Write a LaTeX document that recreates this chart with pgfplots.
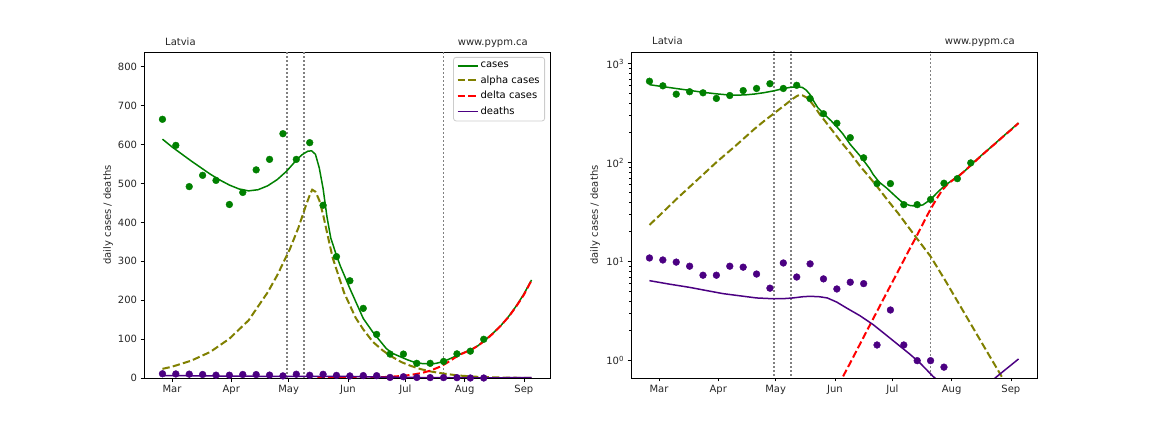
\documentclass[border=0pt]{standalone}
\usepackage{pgfplots}
\pgfplotsset{compat=1.18}
\usepackage{pgfplotstable}
\usepackage{fontspec}
\setmainfont{DejaVu Sans}
\definecolor{mgreen}{RGB}{0,128,0}
\definecolor{molive}{RGB}{128,128,0}
\definecolor{mred}{RGB}{255,0,0}
\definecolor{mindigo}{RGB}{75,0,130}
\definecolor{mgray}{RGB}{128,128,128}
\definecolor{mlegend}{RGB}{204,204,204}

% weekly data points (day 0 = 1 March)
\pgfplotstableread{
day cases deaths
-5 665 10.9
2 598 10.4
9 492 9.9
16 521 9.0
23 508 7.3
30 446 7.3
37 477 9.0
44 535 8.8
51 562 7.5
58 628 5.4
65 562 9.7
72 605 7.0
79 444 9.5
86 312 6.7
93 250 5.3
100 179 6.2
107 112 6.0
114 61.5 1.44
121 61.5 3.25
128 37.7 1.44
135 37.7 1.0
142 42.5 1.0
149 62 0.86
156 69 0
163 99.5 0
}\pts

\pgfplotstableread{
day v
-5 614
0 594
5 576
10 558
15 541
20 524
25 509
30 496
35 486
40 481
45 484
50 494
55 510
60 532
65 560
68 574
71 583
73 584
75 575
77 540
79 487
81 415
83 360
86 315
88 288
90 265
93 230
96 197
100 153
105 118
110 88
112 76
115 64
119 55.5
123 47
127 40
131 37
135 36.3
138 37.5
142 42.5
146 51
150 60
156 72
160 83
164 99
168 116
172 135
176 158
180 185
184 216
188 252
}\casescurve

\pgfplotstableread{
day v
-5 23.5
0 29
10 44.5
20 67
30 101
40 148
50 220
55 264
61.5 330
66 385
70 443
72 470
73.3 484
75 479
77 457
79 420
81 375
84 309
90 219
96 155
100 125
105 93
110 71.6
114 57.5
120 40.7
125 30.9
130 22.9
135 17
142 11.3
150 6.3
160 2.95
170 1.38
180 0.65
188 0.35
}\alphacurve

\pgfplotstableread{
day v
76 0.12
84 0.24
92 0.48
96 0.68
100 0.95
105 1.46
110 2.24
115 3.43
120 5.25
125 8.0
130 12.3
135 18.6
140 28.8
142 33.9
145 42.7
148 52.5
151 61
154 67.6
157 74
160 83
164 97.7
168 115
172 135
176 157
180 184
184 214
188 251
}\deltacurve

\pgfplotstableread{
day v
-5 6.43
5 5.95
16 5.5
25 5.1
33.6 4.75
45 4.45
51 4.3
60 4.22
65 4.23
70 4.3
75 4.42
79 4.47
84 4.42
88 4.3
93 3.9
98 3.41
105 2.85
112 2.31
119 1.8
126 1.40
131 1.17
136.4 0.95
143.4 0.69
150 0.54
155 0.47
160 0.45
165 0.47
170 0.54
175 0.65
180 0.78
184 0.90
188 1.04
}\deathcurve

\pgfplotsset{
  common/.style={
    scale only axis, width=406bp, height=326bp,
    xmin=-14.65, xmax=197.65,
    xtick={0,31,61,92,122,153,184},
    xticklabels={Mar,Apr,May,Jun,Jul,Aug,Sep},
    tick align=outside, tick pos=left,
    major tick length=3.5bp, minor tick length=2bp,
    every tick/.style={black, line width=0.8bp},
    axis line style={line width=0.8bp},
    tick label style={font=\fontsize{10bp}{12bp}\selectfont, text=black!85},
    /pgf/number format/assume math mode=true,
    clip=true,
  },
  vline/.style={mgray, line width=1.5bp, dash pattern=on 1.5bp off 2.5bp, forget plot},
  casesline/.style={mgreen, line width=1.5bp},
  alphaline/.style={molive, line width=2bp, dash pattern=on 7.4bp off 3.2bp},
  deltaline/.style={mred, line width=2bp, dash pattern=on 7.4bp off 3.2bp},
  deathline/.style={mindigo, line width=1.5bp},
  dots/.style={only marks, mark=*, mark size=3.4bp, forget plot},
}

\begin{document}
\begin{tikzpicture}
\path[use as bounding box] (0,0) rectangle (1152bp,432bp);

% ---------------- left: linear ----------------
\begin{axis}[common, name=left, at={(144bp,54bp)}, anchor=south west,
  ymin=0, ymax=838, ytick={0,100,...,800},
  legend style={at={(rel axis cs:0.9877,0.9847)}, anchor=north east,
    draw=mlegend, rounded corners=2.5bp, line width=0.8bp,
    fill=white, fill opacity=0.8, text opacity=1,
    font=\fontsize{10bp}{12bp}\selectfont,
    inner xsep=3bp, inner ysep=3bp, row sep=2.4bp,
    legend cell align=left},
  legend image code/.code={\draw[#1] (0bp,0bp) -- (20bp,0bp);},
]
\addplot[vline] coordinates {(60,-10) (60,2000)};
\addplot[vline] coordinates {(69,-10) (69,2000)};
\addplot[vline] coordinates {(142,-10) (142,2000)};
\addplot[dots, mgreen] table[x=day, y=cases] {\pts};
\addplot[casesline] table[x=day, y=v] {\casescurve};
\addlegendentry{cases}
\addplot[alphaline] table[x=day, y=v] {\alphacurve};
\addlegendentry{alpha cases}
\addplot[deltaline] table[x=day, y=v] {\deltacurve};
\addlegendentry{delta cases}
\addplot[deathline] table[x=day, y=v] {\deathcurve};
\addlegendentry{deaths}
\addplot[dots, mindigo] table[x=day, y=deaths] {\pts};
\end{axis}

% ---------------- right: log ----------------
\begin{axis}[common, name=right, at={(631bp,54bp)}, anchor=south west,
  ymode=log, ymin=0.668, ymax=1313,
  ytick={1,10,100,1000},
  yticklabels={10\textsuperscript{0},10\textsuperscript{1},10\textsuperscript{2},10\textsuperscript{3}},
]
\addplot[vline] coordinates {(60,0.1) (60,5000)};
\addplot[vline] coordinates {(69,0.1) (69,5000)};
\addplot[vline] coordinates {(142,0.1) (142,5000)};
\addplot[dots, mgreen] table[x=day, y=cases] {\pts};
\addplot[casesline] table[x=day, y=v] {\casescurve};
\addplot[alphaline] table[x=day, y=v] {\alphacurve};
\addplot[deltaline] table[x=day, y=v] {\deltacurve};
\addplot[deathline] table[x=day, y=v] {\deathcurve};
\addplot[dots, mindigo, skip coords between index={23}{25}] table[x=day, y=deaths] {\pts};
\end{axis}

% labels and titles
\foreach \ax in {left,right}{
  \node[rotate=90, font=\fontsize{10bp}{12bp}\selectfont, text=black!85] at ([xshift=-36bp]\ax.west) {daily cases / deaths};
  \node[anchor=base west, inner sep=0pt, font=\fontsize{10bp}{12bp}\selectfont, text=black!85] at ([xshift=21bp,yshift=7bp]\ax.north west) {Latvia};
  \node[anchor=base east, inner sep=0pt, font=\fontsize{10bp}{12bp}\selectfont, text=black!85] at ([xshift=-22bp,yshift=7bp]\ax.north east) {www.pypm.ca};
}
\end{tikzpicture}
\end{document}
